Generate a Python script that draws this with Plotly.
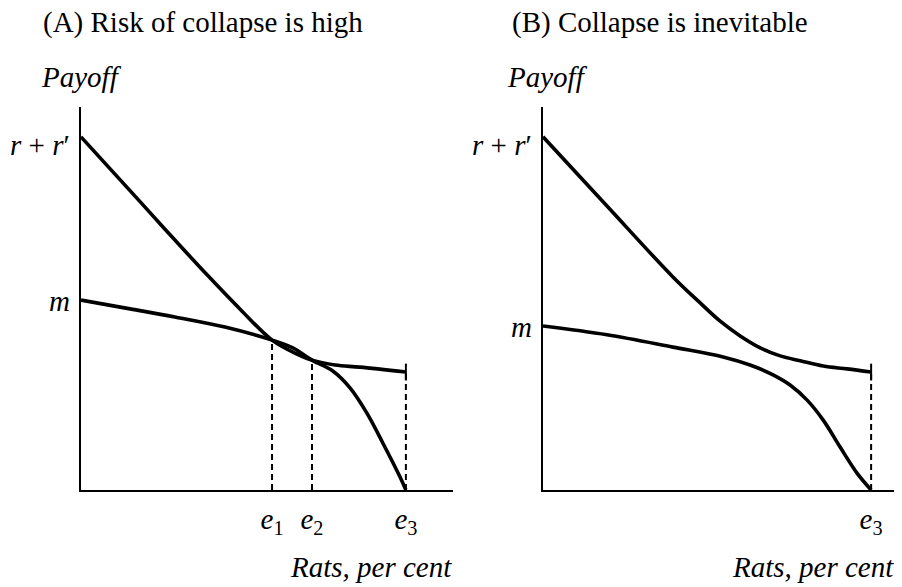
import plotly.graph_objects as go

# ---- data (x: rats, per cent of e3 ; y: payoff, r + r' = 100) ----
# Panel A: risk of collapse is high
A_X_RR = [0, 18.8, 28.9, 39.1, 49.5, 58.8, 65.2, 71.1, 78.2, 85.8, 100]
A_Y_RR = [100.6, 81.5, 71.2, 61.0, 51.0, 42.7, 39.3, 37.0, 35.6, 35.0, 33.6]
A_X_M = [0, 15.1, 28.9, 44.3, 58.8, 65.2, 71.1, 77.5, 82.8, 88.0, 92.9, 98.2, 100]
A_Y_M = [54.1, 51.6, 49.3, 46.4, 42.7, 40.5, 37.0, 33.9, 29.1, 21.9, 13.4, 3.7, 0]
A_E = [58.8, 71.1, 100]
A_E_TOP = [42.7, 37.0, 33.6]
A_E_LABELS = ["e1", "e2", "e3"]

# Panel B: collapse is inevitable
B_X_RR = [0, 19.5, 39.6, 47.9, 54.0, 60.1, 66.2, 72.3, 78.4, 85.4, 92.7, 100]
B_Y_RR = [100.6, 80.9, 60.7, 53.3, 48.1, 43.9, 40.5, 38.2, 36.8, 35.3, 34.5, 33.6]
B_X_M = [0, 19.5, 39.6, 54.9, 63.1, 70.1, 75.3, 80.5, 85.4, 90.5, 95.7, 100]
B_Y_M = [46.7, 44.2, 40.7, 37.9, 35.6, 32.8, 29.9, 25.6, 19.9, 12.3, 4.8, 0]
B_E = [100]
B_E_TOP = [33.6]
B_E_LABELS = ["e3"]

Y_LABELS = ["<i>r</i> + <i>r</i>′", "<i>m</i>"]

FONT = "Liberation Serif"
FS = 29
W, H = 902, 587
OFF = 8  # the page body keeps its default 8px margin


def sub_label(s):
    return f"<i>{s[0]}</i><sub>{s[1:]}</sub>"


def px(x):
    return (x - OFF) / W


def py(y):
    return 1 - (y - OFF) / H


fig = go.Figure()

panels = [
    ("x", "y", A_X_RR, A_Y_RR, A_X_M, A_Y_M, A_E, A_E_TOP),
    ("x2", "y2", B_X_RR, B_Y_RR, B_X_M, B_Y_M, B_E, B_E_TOP),
]

for xa, ya, xr, yr, xm, ym, es, etop in panels:
    # dashed drop lines
    for e, t in zip(es, etop):
        fig.add_trace(go.Scatter(
            x=[e, e], y=[0, t], xaxis=xa, yaxis=ya, mode="lines",
            line=dict(color="black", width=2, dash="6px,4px"),
            hoverinfo="skip",
        ))
    fig.add_trace(go.Scatter(
        x=xr, y=yr, xaxis=xa, yaxis=ya, mode="lines",
        line=dict(color="black", width=3.6, shape="spline", smoothing=1.0),
    ))
    fig.add_trace(go.Scatter(
        x=xm, y=ym, xaxis=xa, yaxis=ya, mode="lines",
        line=dict(color="black", width=3.6, shape="spline", smoothing=1.0),
    ))
    # short bar where the flat curve stops
    fig.add_trace(go.Scatter(
        x=[xr[-1]], y=[yr[-1]], xaxis=xa, yaxis=ya, mode="markers",
        marker=dict(symbol="line-ns", size=12, line=dict(color="black", width=2)),
        cliponaxis=False, hoverinfo="skip",
    ))
    # level labels on the payoff axis
    for val, lab, dy in zip([yr[0], ym[0]], Y_LABELS, [-8, -1]):
        fig.add_annotation(
            text=lab, x=0, y=val, xref=xa, yref=ya,
            xanchor="right", yanchor="middle", xshift=-9, yshift=dy,
            showarrow=False, font=dict(family=FONT, size=FS, color="black"),
        )

axis_common = dict(
    showgrid=False, zeroline=False, showline=True, linecolor="black",
    linewidth=2, ticks="", tickfont=dict(family=FONT, size=FS, color="black"),
    fixedrange=True, automargin=False,
)
y_dom = [py(490), py(107)]

fig.update_layout(
    width=W, height=H,
    margin=dict(l=0, r=0, t=0, b=0),
    paper_bgcolor="white", plot_bgcolor="white",
    showlegend=False,
    font=dict(family=FONT, size=FS, color="black"),
    xaxis=dict(axis_common, domain=[px(81), px(453)], range=[0, 114.5],
               tickvals=A_E, ticktext=[sub_label(s) for s in A_E_LABELS],
               ticklabelstandoff=2),
    yaxis=dict(axis_common, domain=y_dom, range=[0, 109.1], showticklabels=False),
    xaxis2=dict(axis_common, domain=[px(543), px(900)], range=[0, 108.8],
                anchor="y2",
                tickvals=B_E, ticktext=[sub_label(s) for s in B_E_LABELS],
                ticklabelstandoff=2),
    yaxis2=dict(axis_common, domain=y_dom, range=[0, 109.1], anchor="x2",
                showticklabels=False),
)

texts = [
    ("(A) Risk of collapse is high", 41, 22, "left"),
    ("(B) Collapse is inevitable", 510, 22, "left"),
    ("<i>Payoff</i>", 39, 77, "left"),
    ("<i>Payoff</i>", 505, 77, "left"),
    ("<i>Rats, per cent</i>", 454, 567, "right"),
    ("<i>Rats, per cent</i>", 896, 567, "right"),
]
for t, x, y, xanchor in texts:
    fig.add_annotation(
        text=t, x=px(x), y=py(y), xref="paper", yref="paper",
        xanchor=xanchor, yanchor="middle", showarrow=False,
        font=dict(family=FONT, size=FS, color="black"),
    )

fig.write_html("out.html")
